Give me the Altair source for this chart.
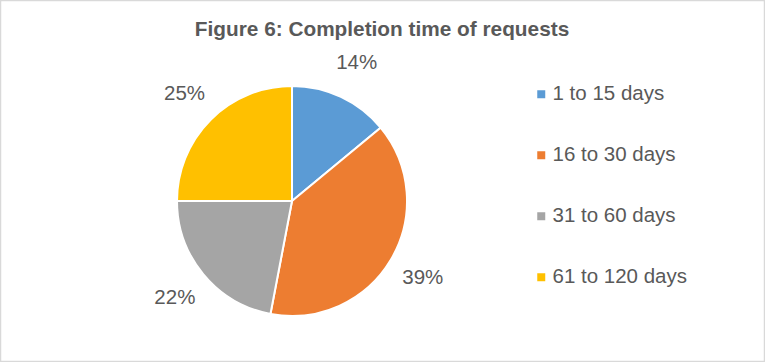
import altair as alt
import pandas as pd

categories = ["1 to 15 days", "16 to 30 days", "31 to 60 days", "61 to 120 days"]
values = [14, 39, 22, 25]
labels = ["14%", "39%", "22%", "25%"]
colors = ["#5B9BD5", "#ED7D31", "#A5A5A5", "#FFC000"]
title_text = ["Figure 6: Completion time of requests"]

FONT = "Liberation Sans"
TXT = "#595959"

df = pd.DataFrame({"category": categories, "value": values, "label": labels,
                   "order": list(range(len(categories)))})

base = alt.Chart(df).encode(
    theta=alt.Theta("value:Q", stack=True),
    order=alt.Order("order:Q"),
)

pie = base.mark_arc(x=292, y=201, outerRadius=115, stroke="white", strokeWidth=2).encode(
    color=alt.Color(
        "category:N",
        scale=alt.Scale(domain=categories, range=colors),
        sort=categories,
        legend=alt.Legend(
            title=None, orient="none", legendX=531, legendY=84,
            symbolType="square", symbolSize=64, symbolStrokeWidth=0,
            labelFontSize=20.5, labelColor=TXT, labelFont=FONT,
            rowPadding=40, labelOffset=1,
        ),
    )
)

text = base.mark_text(x=292, y=201, radius=152, fontSize=20.5, font=FONT, color=TXT).encode(
    text="label:N"
)

title = alt.Chart(pd.DataFrame({"t": title_text})).mark_text(
    fontSize=20.8, fontWeight="bold", font=FONT, color=TXT, baseline="middle", align="center"
).encode(text="t:N", x=alt.value(382), y=alt.value(30))

chart = alt.layer(pie, text, title).properties(
    width=765, height=362, autosize=alt.AutoSizeParams(type="none"), padding=0
).configure_view(stroke="#D9D9D9", strokeWidth=2.5)

chart.save("out.html", embed_options={"renderer": "svg", "actions": False})
